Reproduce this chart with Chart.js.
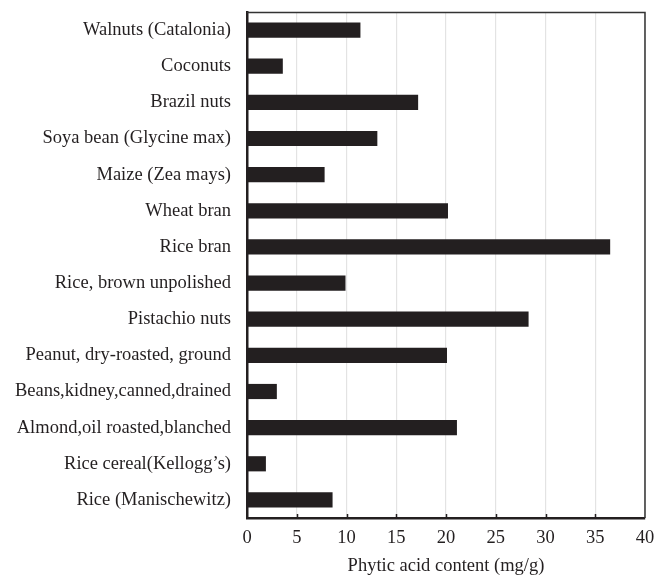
<!DOCTYPE html>
<html>
<head>
<meta charset="utf-8">
<script src="https://cdn.jsdelivr.net/npm/chart.js@4/dist/chart.umd.min.js"></script>
<style>
  html, body { margin: 0; padding: 0; background: #ffffff; }
  #wrap { width: 654px; height: 577px; }
</style>
</head>
<body>
<div id="wrap"><canvas id="chart" width="654" height="577"></canvas></div>
<script>
// Foods, top to bottom
const foods = [
  "Walnuts (Catalonia)",
  "Coconuts",
  "Brazil nuts",
  "Soya bean (Glycine max)",
  "Maize (Zea mays)",
  "Wheat bran",
  "Rice bran",
  "Rice, brown unpolished",
  "Pistachio nuts",
  "Peanut, dry-roasted, ground",
  "Beans,kidney,canned,drained",
  "Almond,oil roasted,blanched",
  "Rice cereal(Kellogg\u2019s)",
  "Rice (Manischewitz)"
];

// Phytic acid content, mg/g
const phyticAcid = [11.4, 3.6, 17.2, 13.1, 7.8, 20.2, 36.5, 9.9, 28.3, 20.1, 3.0, 21.1, 1.9, 8.6];

// Value-axis ticks
const xTicks = [0, 5, 10, 15, 20, 25, 30, 35, 40];

const FONT = { family: "'Liberation Serif', 'Times New Roman', serif", size: 18.5 };
const INK = "#231f20";

// Frame on top/right plus small inward tick marks on the value axis
const framePlugin = {
  id: "frame",
  afterDraw(chart) {
    const { ctx, chartArea: a, scales } = chart;
    ctx.save();
    ctx.strokeStyle = "#333333";
    ctx.lineWidth = 1.5;
    ctx.beginPath();
    ctx.moveTo(a.left, a.top + 0.5);
    ctx.lineTo(a.right, a.top + 0.5);
    ctx.lineTo(a.right, a.bottom);
    ctx.stroke();
    ctx.strokeStyle = INK;
    ctx.lineWidth = 1.5;
    ctx.beginPath();
    xTicks.slice(1, -1).forEach(v => {
      const px = Math.round(scales.x.getPixelForValue(v)) + 0.5;
      ctx.moveTo(px, a.bottom);
      ctx.lineTo(px, a.bottom - 4);
    });
    ctx.stroke();
    ctx.restore();
  }
};

new Chart(document.getElementById("chart"), {
  type: "bar",
  data: {
    labels: foods,
    datasets: [{
      data: phyticAcid,
      backgroundColor: INK,
      borderWidth: 0,
      barPercentage: 0.84,
      categoryPercentage: 0.5
    }]
  },
  options: {
    indexAxis: "y",
    responsive: false,
    animation: false,
    events: [],
    layout: { padding: { top: 12, right: 9, left: 0, bottom: 0 } },
    plugins: {
      legend: { display: false },
      tooltip: { enabled: false }
    },
    scales: {
      x: {
        min: 0,
        max: 40,
        afterBuildTicks(scale) { scale.ticks = xTicks.map(v => ({ value: v })); },
        afterFit(scale) {
          scale.height = 59;
          scale.paddingLeft = 0;
          scale.paddingRight = 0;
        },
        grid: { color: "#e3e3e3", lineWidth: 1.2, drawTicks: false },
        border: { color: INK, width: 2.5 },
        ticks: { color: INK, font: FONT, padding: 9, maxRotation: 0 },
        title: {
          display: true,
          text: "Phytic acid content (mg/g)",
          color: INK,
          font: FONT,
          padding: { top: 2, bottom: 0 }
        }
      },
      y: {
        afterFit(scale) {
          scale.width = 247;
          scale.paddingTop = 0;
          scale.paddingBottom = 0;
        },
        grid: { display: false, drawTicks: false },
        border: { color: INK, width: 2.5 },
        ticks: { color: INK, font: FONT, padding: 16, autoSkip: false }
      }
    }
  },
  plugins: [framePlugin]
});
</script>
</body>
</html>
